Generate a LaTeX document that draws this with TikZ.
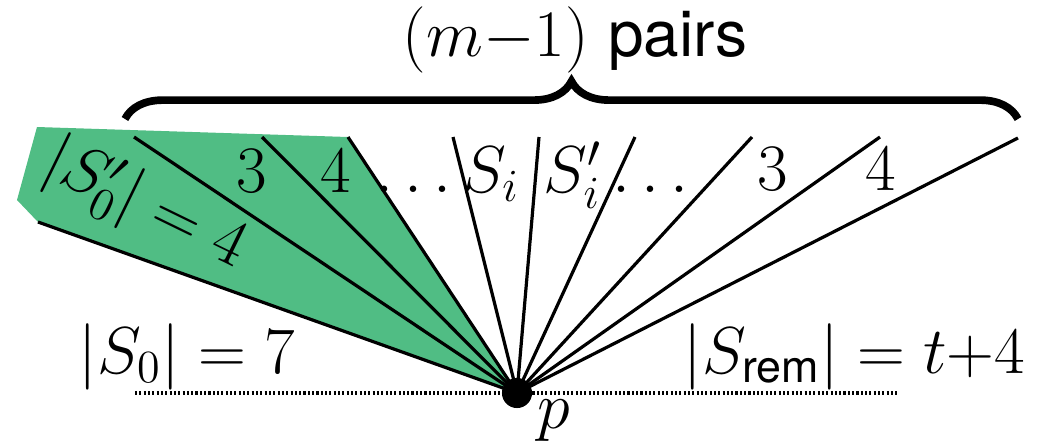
\documentclass[tikz,border=0pt]{standalone}
\usepackage{amsmath}
\usepackage{fontspec}
\setsansfont{TeX Gyre Heros}
\usetikzlibrary{decorations.pathreplacing}
\definecolor{fangreen}{RGB}{80,189,132}
\begin{document}
\begin{tikzpicture}[x=0.3125pt,y=-0.3125pt,
  ray/.style={line width=1pt},
  lbl/.style={inner sep=0pt,font=\fontsize{20pt}{24pt}\selectfont}]
\useasboundingbox (0,0) rectangle (1055,442);
% apex
\coordinate (p) at (517,393);
% ray ends
\coordinate (r0) at (38,222);
\coordinate (r1) at (134,137);
\coordinate (r2) at (262,137);
\coordinate (r3) at (348,137);
\coordinate (r4) at (453,137);
\coordinate (r5) at (539,137);
\coordinate (r6) at (635,137);
\coordinate (r7) at (752,137);
\coordinate (r8) at (880,137);
\coordinate (r9) at (1018,138);
% green region
\fill[fangreen] (37,127) -- (r3) -- (p) -- (r0) -- (17,200) -- cycle;
% dotted base line
\coordinate (bl) at (135,393);
\coordinate (br) at (898,393);
\draw[line width=1pt,dash pattern={on 0.65pt off 0.7pt}] (bl) -- (br);
% rays
\foreach \r in {r0,r1,r2,r3,r4,r5,r6,r7,r8,r9}
  \draw[ray] (p) -- (\r);
\fill (p) circle[radius=4.7pt];
% brace
\coordinate (bra) at (125,119);
\coordinate (brb) at (1018,119);
\draw[line width=2.4pt,decorate,decoration={brace,amplitude=11.8pt}] (bra) -- (brb);
\node[lbl,anchor=base] (top) at (575,56) {$(m{-}1)$ \textsf{pairs}};
% labels
\node[lbl,rotate=-26] (s0p) at (145,206) {$|S'_0|=4$};
\node[lbl,anchor=base] (l3a) at (252,192) {$3$};
\node[lbl,anchor=base] (l4a) at (336,192) {$4$};
\node[lbl,anchor=base east] (si) at (520,192) {$\ldots S_i$};
\node[lbl,anchor=base west] (sip) at (543,192) {$S'_i\ldots$};
\node[lbl,anchor=base] (l3b) at (773,190) {$3$};
\node[lbl,anchor=base] (l4b) at (881,190) {$4$};
\node[lbl,anchor=base west] (s0) at (78,373) {$|S_0|=7$};
\node[lbl,anchor=base west] (srem) at (683,373) {$|S_{\textsf{rem}}|=t{+}4$};
\node[lbl,anchor=base west] (pl) at (537,428) {$p$};
\end{tikzpicture}
\end{document}
